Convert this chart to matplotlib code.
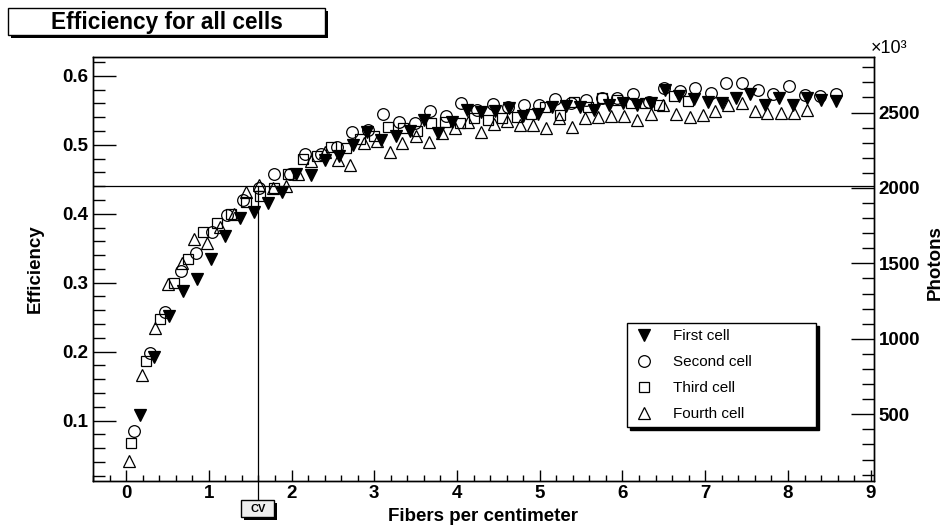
import matplotlib
matplotlib.use("Agg")
import matplotlib.pyplot as plt
from matplotlib.patches import Rectangle
from matplotlib.ticker import MultipleLocator, FormatStrFormatter

plt.rcParams['font.family'] = ['Liberation Sans', 'DejaVu Sans']
plt.rcParams['font.weight'] = 'bold'

# ---------------- data ----------------
first_x = [0.172, 0.343, 0.515, 0.686, 0.858, 1.029, 1.201, 1.372, 1.544, 1.715,
           1.887, 2.058, 2.230, 2.401, 2.573, 2.744, 2.916, 3.087, 3.259, 3.430,
           3.602, 3.773, 3.945, 4.116, 4.288, 4.459, 4.631, 4.802, 4.974, 5.145,
           5.317, 5.488, 5.660, 5.831, 6.003, 6.174, 6.346, 6.517, 6.689, 6.860,
           7.032, 7.203, 7.375, 7.546, 7.718, 7.889, 8.061, 8.232, 8.404, 8.575]
first_y = [0.108, 0.193, 0.252, 0.288, 0.305, 0.335, 0.367, 0.394, 0.402, 0.415,
           0.431, 0.458, 0.456, 0.478, 0.483, 0.500, 0.519, 0.507, 0.512, 0.520,
           0.536, 0.517, 0.533, 0.550, 0.548, 0.549, 0.553, 0.542, 0.545, 0.555,
           0.556, 0.555, 0.550, 0.558, 0.561, 0.558, 0.560, 0.580, 0.570, 0.566,
           0.562, 0.561, 0.567, 0.574, 0.558, 0.567, 0.557, 0.567, 0.565, 0.564]

second_x = [0.094, 0.283, 0.471, 0.660, 0.848, 1.037, 1.225, 1.414, 1.602, 1.791,
            1.979, 2.168, 2.356, 2.545, 2.733, 2.922, 3.110, 3.299, 3.487, 3.676,
            3.864, 4.053, 4.241, 4.430, 4.618, 4.807, 4.995, 5.184, 5.372, 5.561,
            5.749, 5.938, 6.126, 6.315, 6.503, 6.692, 6.880, 7.069, 7.257, 7.446,
            7.634, 7.823, 8.011, 8.200, 8.388, 8.577]
second_y = [0.085, 0.198, 0.258, 0.317, 0.343, 0.374, 0.398, 0.420, 0.437, 0.458,
            0.458, 0.487, 0.486, 0.497, 0.519, 0.522, 0.545, 0.533, 0.531, 0.549,
            0.541, 0.560, 0.550, 0.559, 0.555, 0.558, 0.557, 0.566, 0.560, 0.565,
            0.567, 0.568, 0.574, 0.562, 0.582, 0.578, 0.582, 0.575, 0.589, 0.590,
            0.580, 0.573, 0.585, 0.572, 0.571, 0.573]

third_x = [0.064, 0.237, 0.409, 0.582, 0.754, 0.927, 1.099, 1.272, 1.444, 1.617,
           1.789, 1.962, 2.134, 2.307, 2.479, 2.652, 2.824, 2.997, 3.169, 3.342,
           3.514, 3.687, 3.859, 4.032, 4.204, 4.377, 4.549, 4.722, 4.894, 5.067,
           5.239, 5.412, 5.584, 5.757, 5.929, 6.102, 6.274, 6.447, 6.619, 6.792]
third_y = [0.068, 0.186, 0.247, 0.299, 0.334, 0.373, 0.386, 0.400, 0.417, 0.426,
           0.437, 0.458, 0.480, 0.483, 0.497, 0.495, 0.508, 0.512, 0.525, 0.524,
           0.520, 0.531, 0.533, 0.531, 0.538, 0.536, 0.538, 0.540, 0.545, 0.555,
           0.543, 0.562, 0.555, 0.567, 0.565, 0.560, 0.560, 0.558, 0.570, 0.563]

fourth_x = [0.04, 0.19, 0.35, 0.51, 0.67, 0.82, 0.98, 1.14, 1.30, 1.45,
            1.61, 1.77, 1.93, 2.08, 2.24, 2.40, 2.56, 2.71, 2.87, 3.03,
            3.19, 3.34, 3.50, 3.66, 3.82, 3.97, 4.13, 4.29, 4.45, 4.60,
            4.76, 4.92, 5.08, 5.23, 5.39, 5.55, 5.71, 5.86, 6.02, 6.18,
            6.34, 6.49, 6.65, 6.81, 6.97, 7.12, 7.28, 7.44, 7.60, 7.75,
            7.91, 8.07, 8.23]
fourth_y = [0.042, 0.166, 0.235, 0.298, 0.328, 0.363, 0.358, 0.381, 0.400, 0.431,
            0.442, 0.437, 0.440, 0.458, 0.476, 0.490, 0.478, 0.471, 0.502, 0.505,
            0.490, 0.502, 0.512, 0.504, 0.517, 0.524, 0.533, 0.519, 0.530, 0.534,
            0.529, 0.529, 0.524, 0.538, 0.526, 0.539, 0.540, 0.541, 0.542, 0.536,
            0.545, 0.558, 0.545, 0.540, 0.543, 0.549, 0.558, 0.561, 0.549, 0.546,
            0.546, 0.546, 0.551]

series_labels = ["First cell", "Second cell", "Third cell", "Fourth cell"]
title_text = "Efficiency for all cells"
x_title = "Fibers per centimeter"
y_title = "Efficiency"
y2_title = "Photons"
cv_label = "CV"
cv_x = 1.6          # fibers per cm at the CV mark
eff_cut = 0.44      # efficiency reference line
photon_scale = 4573  # photons per unit of efficiency (right axis)

# ---------------- layout ----------------
W, H = 945, 529
fig = plt.figure(figsize=(W / 100, H / 100), dpi=100)
L, R, B, T = 93, 874, 480.5, 57.3
ax = fig.add_axes([L / W, 1 - B / H, (R - L) / W, (B - T) / H])
xlim = (-0.4, 9.04)
ylim = (0.0133, 0.6267)
ax.set_xlim(*xlim)
ax.set_ylim(*ylim)

mk = dict(ls='none', color='k', mew=0.9)
h1, = ax.plot(first_x, first_y, marker='v', ms=8.5, mfc='k', mec='k', label=series_labels[0], **mk)
h2, = ax.plot(second_x, second_y, marker='o', ms=8.4, mfc='none', mec='k', label=series_labels[1], **mk)
h3, = ax.plot(third_x, third_y, marker='s', ms=7.8, mfc='none', mec='k', label=series_labels[2], **mk)
h4, = ax.plot(fourth_x, fourth_y, marker='^', ms=8.8, mfc='none', mec='k', label=series_labels[3], **mk)

# reference lines
ax.axhline(eff_cut, color='k', lw=0.9, zorder=1)
y_lo = ylim[0] - (500 - B) / (B - T) * (ylim[1] - ylim[0])
ax.plot([cv_x, cv_x], [y_lo, eff_cut], color='k', lw=0.9, clip_on=False, zorder=1)

# ticks
for s in ax.spines.values():
    s.set_linewidth(1.0)
ax.xaxis.set_major_locator(MultipleLocator(1))
ax.xaxis.set_minor_locator(MultipleLocator(0.2))
ax.yaxis.set_major_locator(MultipleLocator(0.1))
ax.yaxis.set_minor_locator(MultipleLocator(0.02))
ax.yaxis.set_major_formatter(FormatStrFormatter('%.1f'))
ax.tick_params(axis='x', which='major', direction='in', length=8, width=1, top=False,
               labelsize=13.5, pad=3.5)
ax.tick_params(axis='x', which='minor', direction='in', length=4.3, width=1, top=False)
ax.tick_params(axis='y', which='major', direction='in', length=16.5, width=1, right=False,
               labelsize=13.5, pad=3.5)
ax.tick_params(axis='y', which='minor', direction='in', length=8.6, width=1, right=False)

ax.set_xlabel(x_title, fontsize=13.5, fontweight='bold')
ax.xaxis.set_label_coords(0.5, -0.066)
ax.set_ylabel(y_title, fontsize=13.5, fontweight='bold', va='center')
ax.yaxis.set_label_coords((35 - L) / (R - L), 0.5)

ax2 = ax.twinx()
ax2.set_ylim(ylim[0] * photon_scale, ylim[1] * photon_scale)
ax2.yaxis.set_major_locator(MultipleLocator(500))
ax2.yaxis.set_minor_locator(MultipleLocator(100))
ax2.yaxis.set_major_formatter(FormatStrFormatter('%d'))
ax2.tick_params(axis='y', which='major', direction='in', length=16.5, width=1,
                labelsize=13.5, pad=3.5)
ax2.tick_params(axis='y', which='minor', direction='in', length=8.6, width=1)
for s in ax2.spines.values():
    s.set_linewidth(1.0)
ax2.set_ylabel(y2_title, fontsize=13.5, fontweight='bold', va='center', rotation=90)
ax2.yaxis.set_label_coords((935 - L) / (R - L), 0.515)
fig.text(871 / W, 1 - 53 / H, "\u00d710\u00b3", fontsize=13, fontweight='normal',
         ha='left', va='baseline')

# legend
leg = ax2.legend([h1, h2, h3, h4], series_labels, loc='upper left',
                 bbox_to_anchor=(627 / W, 1 - 323 / H, 189 / W, 0),
                 bbox_transform=fig.transFigure, mode='expand',
                 prop={'size': 11, 'weight': 'normal'}, frameon=True, fancybox=False,
                 edgecolor='k', framealpha=1, borderpad=0.4, labelspacing=0.78,
                 handlelength=1.4, handletextpad=1.2, borderaxespad=0,
                 shadow={'color': 'k', 'alpha': 1})
leg.get_frame().set_linewidth(1.0)

# title box with shadow
def shadow_box(x0, y0, x1, y1, off, face):
    fig.patches.append(Rectangle(((x0 + off) / W, 1 - (y1 + off) / H), (x1 - x0) / W,
                                 (y1 - y0) / H, transform=fig.transFigure,
                                 facecolor='k', edgecolor='k', lw=0))
    fig.patches.append(Rectangle((x0 / W, 1 - y1 / H), (x1 - x0) / W, (y1 - y0) / H,
                                 transform=fig.transFigure, facecolor=face,
                                 edgecolor='k', lw=1.0))

shadow_box(8, 8, 325, 35, 3, 'white')
fig.text(167 / W, 1 - 22 / H, title_text, fontsize=16.3, fontweight='bold',
         ha='center', va='center')

# CV box
cx = ax.transData.transform((cv_x, ylim[0]))[0]
shadow_box(cx - 17, 500, cx + 16, 516.7, 3, '#eeeeee')
fig.text(cx / W, 1 - 508.5 / H, cv_label, fontsize=8, fontweight='bold',
         ha='center', va='center')

fig.savefig("out.png", dpi=100)
